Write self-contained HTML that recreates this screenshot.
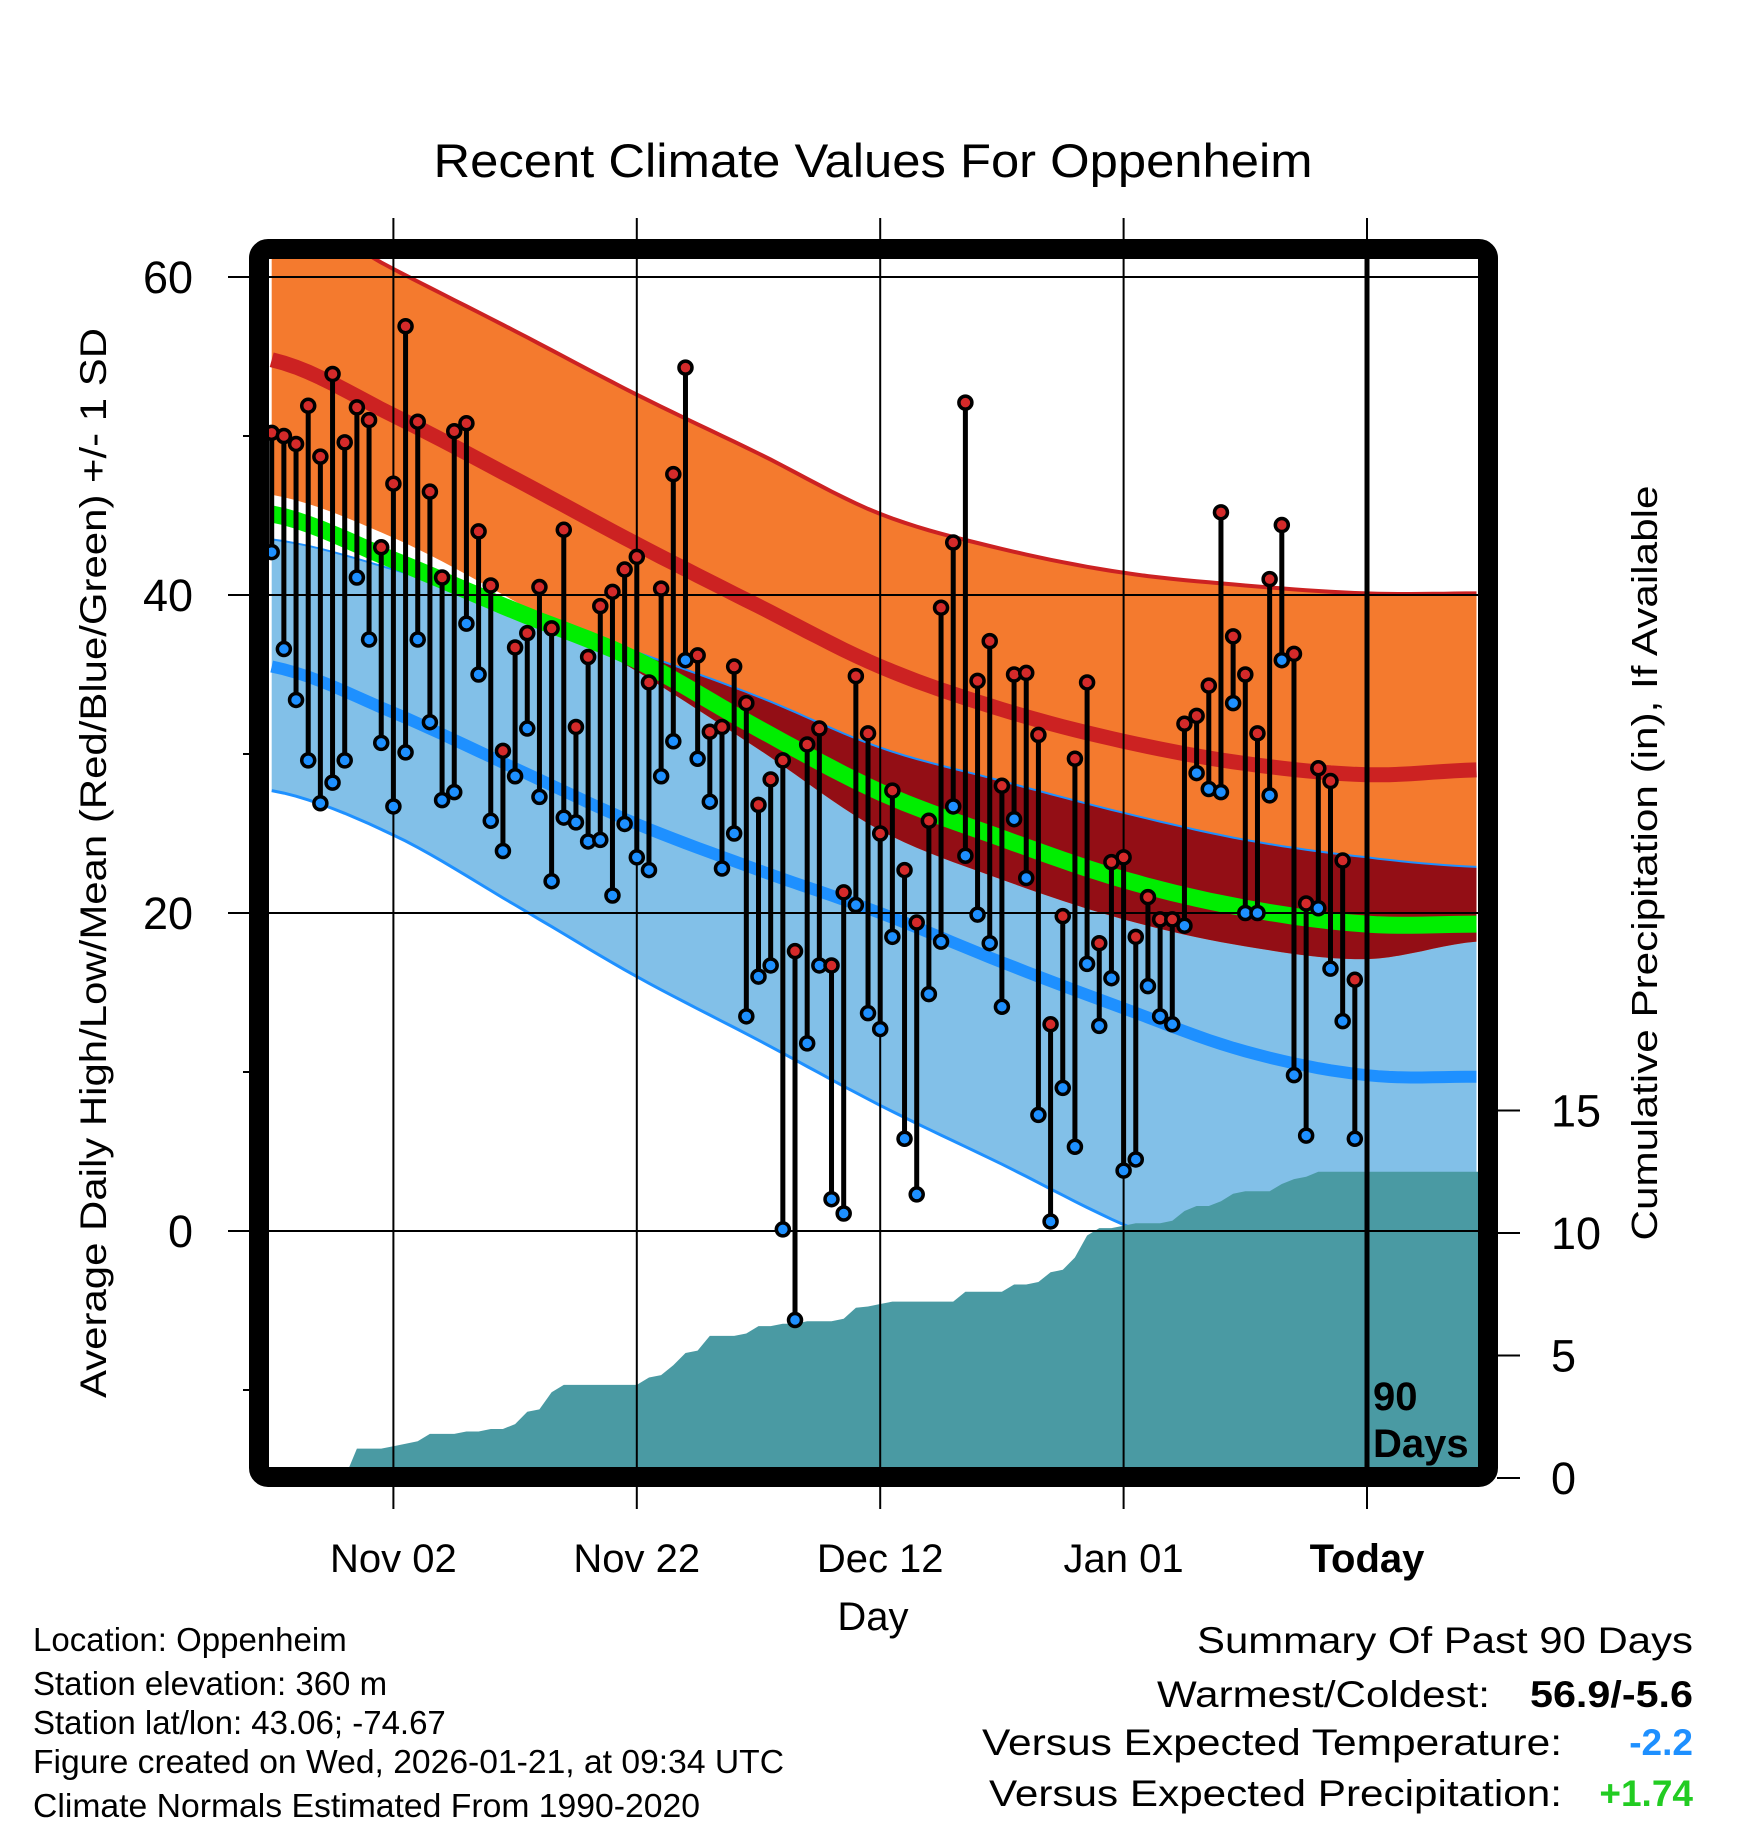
<!DOCTYPE html>
<html><head><meta charset="utf-8"><style>
html,body{margin:0;padding:0;background:#fff;}
svg{display:block;font-family:"Liberation Sans",sans-serif;}
</style></head><body>
<svg id="chart" width="1748" height="1828" viewBox="0 0 1748 1828" xmlns="http://www.w3.org/2000/svg">
<defs><clipPath id="plotclip"><rect x="269" y="259" width="1209" height="1209"/></clipPath></defs>
<text x="873" y="177" font-size="47" text-anchor="middle" textLength="879" lengthAdjust="spacingAndGlyphs">Recent Climate Values For Oppenheim</text>
<g id="plot" clip-path="url(#plotclip)"></g>
<g id="axes"></g>
<text transform="translate(106,863) rotate(-90)" font-size="37" text-anchor="middle" textLength="1070" lengthAdjust="spacingAndGlyphs">Average Daily High/Low/Mean (Red/Blue/Green) +/- 1 SD</text>
<text transform="translate(1657,863) rotate(-90)" font-size="36" text-anchor="middle" textLength="755" lengthAdjust="spacingAndGlyphs">Cumulative Precipitation (in), If Available</text>
<text x="873" y="1630" font-size="40" text-anchor="middle">Day</text>
<g font-size="33">
<text x="33" y="1651">Location: Oppenheim</text>
<text x="33" y="1695">Station elevation: 360 m</text>
<text x="33" y="1734">Station lat/lon: 43.06; -74.67</text>
<text x="33" y="1773" textLength="751" lengthAdjust="spacingAndGlyphs">Figure created on Wed, 2026-01-21, at 09:34 UTC</text>
<text x="33" y="1817" textLength="667" lengthAdjust="spacingAndGlyphs">Climate Normals Estimated From 1990-2020</text>
</g>
<g font-size="37">
<text x="1693" y="1653" text-anchor="end" textLength="496" lengthAdjust="spacingAndGlyphs">Summary Of Past 90 Days</text>
<text x="1490" y="1707" text-anchor="end" textLength="333" lengthAdjust="spacingAndGlyphs">Warmest/Coldest:</text>
<text x="1693" y="1707" text-anchor="end" font-weight="bold" textLength="163" lengthAdjust="spacingAndGlyphs">56.9/-5.6</text>
<text x="1562" y="1755" text-anchor="end" textLength="580" lengthAdjust="spacingAndGlyphs">Versus Expected Temperature:</text>
<text x="1693" y="1755" text-anchor="end" font-weight="bold" fill="#1E90FF">-2.2</text>
<text x="1562" y="1806" text-anchor="end" textLength="573" lengthAdjust="spacingAndGlyphs">Versus Expected Precipitation:</text>
<text x="1693" y="1806" text-anchor="end" font-weight="bold" fill="#22CC22">+1.74</text>
</g>
</svg>
<script>
// ---- data ----
const highs = [50.2,50.0,49.5,51.9,48.7,53.9,49.6,51.8,51.0,43.0,47.0,56.9,50.9,46.5,41.1,50.3,50.8,44.0,40.6,30.2,36.7,37.6,40.5,37.9,44.1,31.7,36.1,39.3,40.2,41.6,42.4,34.5,40.4,47.6,54.3,36.2,31.4,31.7,35.5,33.2,26.8,28.4,29.6,17.6,30.6,31.6,16.7,21.3,34.9,31.3,25.0,27.7,22.7,19.4,25.8,39.2,43.3,52.1,34.6,37.1,28.0,35.0,35.1,31.2,13.0,19.8,29.7,34.5,18.1,23.2,23.5,18.5,21.0,19.6,19.6,31.9,32.4,34.3,45.2,37.4,35.0,31.3,41.0,44.4,36.3,20.6,29.1,28.3,23.3,15.8];
const lows = [42.7,36.6,33.4,29.6,26.9,28.2,29.6,41.1,37.2,30.7,26.7,30.1,37.2,32.0,27.1,27.6,38.2,35.0,25.8,23.9,28.6,31.6,27.3,22.0,26.0,25.7,24.5,24.6,21.1,25.6,23.5,22.7,28.6,30.8,35.9,29.7,27.0,22.8,25.0,13.5,16.0,16.7,0.1,-5.6,11.8,16.7,2.0,1.1,20.5,13.7,12.7,18.5,5.8,2.3,14.9,18.2,26.7,23.6,19.9,18.1,14.1,25.9,22.2,7.3,0.6,9.0,5.3,16.8,12.9,15.9,3.8,4.5,15.4,13.5,13.0,19.2,28.8,27.8,27.6,33.2,20.0,20.0,27.4,35.9,9.8,6.0,20.3,16.5,13.2,5.8];
const precip = [0,0,0,0,0,0,0,1.2,1.2,1.2,1.3,1.4,1.5,1.8,1.8,1.8,1.9,1.9,2.0,2.0,2.2,2.7,2.8,3.5,3.8,3.8,3.8,3.8,3.8,3.8,3.8,4.1,4.2,4.6,5.1,5.2,5.8,5.8,5.8,5.9,6.2,6.2,6.3,6.3,6.4,6.4,6.4,6.5,6.95,7.0,7.1,7.2,7.2,7.2,7.2,7.2,7.2,7.6,7.6,7.6,7.6,7.9,7.9,8.0,8.4,8.5,9.0,9.9,10.2,10.2,10.3,10.4,10.4,10.4,10.5,10.9,11.1,11.1,11.3,11.6,11.7,11.7,11.7,12.0,12.2,12.3,12.5,12.5,12.5,12.5];
const normDays = [-90,-80,-70,-60,-50,-40,-30,-20,-10,0,9];
const highPlusSD = [64.5,60.5,56.6,52.6,48.9,45.1,42.9,41.4,40.6,40.1,40.1];
const highMean = [54.8,51.3,47.3,43.2,39.3,35.5,32.8,30.8,29.4,28.7,29.0];
const highMinusSD = [46.3,43.6,39.6,35.2,30.3,25.2,22.1,19.6,17.9,17.1,18.2];
const meanMean = [45.1,42.2,39.0,35.9,31.6,27.6,24.7,22.1,20.3,19.3,19.3];
const lowPlusSD = [43.5,41.6,39.0,36.4,33.6,30.4,28.3,26.3,24.6,23.5,22.9];
const lowMean = [35.5,32.6,29.1,25.6,22.7,20.0,16.9,14.0,11.3,9.8,9.7];
const lowMinusSD = [27.7,24.9,20.5,16.0,12.0,7.9,4.2,0.4,-2.5,-4.5,-5.0];
const yTicks = [0,20,40,60];
const yMinor = [-10,10,30,50];
const pTicks = [0,5,10,15];
const xTickDays = [-80,-60,-40,-20,0];
const xTickLabels = ["Nov 02","Nov 22","Dec 12","Jan 01","Today"];

// ---- axis functions ----
const X = d => 1367 + 12.17*d;
const Y = v => 1231 - 15.9*v;
const P = p => 1478 - 24.5*p;
const NS = "http://www.w3.org/2000/svg";
function mk(tag, attrs, parent){const e=document.createElementNS(NS,tag);for(const k in attrs)e.setAttribute(k,attrs[k]);parent.appendChild(e);return e;}
const plot = document.getElementById('plot');
const axes = document.getElementById('axes');

function sample(vals){
  const pts=[];const n=normDays.length;
  for(let i=0;i<n-1;i++){
    const p0=vals[Math.max(i-1,0)],p1=vals[i],p2=vals[i+1],p3=vals[Math.min(i+2,n-1)];
    const d1=normDays[i],d2=normDays[i+1];
    for(let s=0;s<10;s++){const t=s/10;
      const v=0.5*((2*p1)+(-p0+p2)*t+(2*p0-5*p1+4*p2-p3)*t*t+(-p0+3*p1-3*p2+p3)*t*t*t);
      pts.push([d1+(d2-d1)*t,v]);}
  }
  pts.push([normDays[n-1],vals[n-1]]);
  return pts;
}
const sHP=sample(highPlusSD),sHM=sample(highMean),sHm=sample(highMinusSD),sMM=sample(meanMean),sLP=sample(lowPlusSD),sLM=sample(lowMean),sLm=sample(lowMinusSD);
const line = s => s.map(p=>X(p[0]).toFixed(1)+','+Y(p[1]).toFixed(1)).join(' ');
const band = (a,b) => line(a)+' '+line(b.slice().reverse());

const lb=mk('polygon',{points:band(sLP,sLm),fill:'#82C0E8'},plot);


const ob=mk('polygon',{points:band(sHP,sHm),fill:'#F47A2E'},plot);


const ovBottom=sLP.map((p,i)=>[p[0],Math.min(p[1],sHm[i][1])]);
const dr=mk('polygon',{points:band(sLP,ovBottom),fill:'#930E15'},plot);


const lpl=mk('polyline',{points:line(sLP),fill:'none',stroke:'#1E90FF','stroke-width':2},plot);


const lml=mk('polyline',{points:line(sLm),fill:'none',stroke:'#1E90FF','stroke-width':3},plot);


const hpl=mk('polyline',{points:line(sHP),fill:'none',stroke:'#CC2222','stroke-width':4},plot);


const hml=mk('polyline',{points:line(sHM),fill:'none',stroke:'#CC2222','stroke-width':15},plot);


const mml=mk('polyline',{points:line(sMM),fill:'none',stroke:'#00EE00','stroke-width':17},plot);


const lmean=mk('polyline',{points:line(sLM),fill:'none',stroke:'#1E90FF','stroke-width':12},plot);



let pp = X(-90)-2+','+1480+' ';
precip.forEach((p,i)=>{pp+=X(i-90).toFixed(1)+','+P(p).toFixed(1)+' ';});
pp+=X(10)+','+P(precip[precip.length-1]).toFixed(1)+' '+X(10)+',1480';
const pa=mk('polygon',{points:pp,fill:'#4A9AA3'},plot);



yTicks.forEach(v=>{const g=mk('line',{x1:269,x2:1478,y1:Y(v),y2:Y(v),stroke:'#000','stroke-width':2},plot);

});
xTickDays.forEach(d=>{const g=mk('line',{x1:X(d),x2:X(d),y1:259,y2:1468,stroke:'#000','stroke-width':d===0?5:2},plot);

});

highs.forEach((h,i)=>{
  const x=X(i-90);
  const st=mk('line',{x1:x,x2:x,y1:Y(h),y2:Y(lows[i]),stroke:'#000','stroke-width':5},plot);
  
  
});
highs.forEach((h,i)=>{
  const x=X(i-90);
  const lc=mk('circle',{cx:x,cy:Y(lows[i]),r:6.5,fill:'#1E90FF',stroke:'#000','stroke-width':3.5},plot);
  
  
  const hc=mk('circle',{cx:x,cy:Y(h),r:6.5,fill:'#D42A2A',stroke:'#000','stroke-width':3.5},plot);
  
  
});
const t90=mk('text',{x:1373,y:1410,'font-size':40,'font-weight':'bold'},plot);t90.textContent='90';


const tdy=mk('text',{x:1373,y:1457,'font-size':40,'font-weight':'bold'},plot);tdy.textContent='Days';



yTicks.forEach(v=>{
  const t=mk('line',{x1:228,x2:250,y1:Y(v),y2:Y(v),stroke:'#000','stroke-width':2},axes);
  
  
  const l=mk('text',{x:193,y:Y(v)+16,'font-size':45,'text-anchor':'end'},axes);l.textContent=v;
  
  
});
yMinor.forEach(v=>{const t=mk('line',{x1:243,x2:250,y1:Y(v),y2:Y(v),stroke:'#000','stroke-width':2},axes);

});
pTicks.forEach(p=>{
  const t=mk('line',{x1:1497,x2:1520,y1:P(p),y2:P(p),stroke:'#000','stroke-width':2},axes);
  
  
  const l=mk('text',{x:1551,y:P(p)+16,'font-size':45},axes);l.textContent=p;
  
  
});
xTickDays.forEach((d,i)=>{
  const t1=mk('line',{x1:X(d),x2:X(d),y1:218,y2:250,stroke:'#000','stroke-width':2},axes);
  
  
  const t2=mk('line',{x1:X(d),x2:X(d),y1:1480,y2:1509,stroke:'#000','stroke-width':2},axes);
  
  
  const l=mk('text',{x:X(d),y:1572,'font-size':40,'text-anchor':'middle','font-weight':d===0?'bold':'normal'},axes);l.textContent=xTickLabels[i];
  
  
});
const fr=mk('rect',{x:259,y:249,width:1229,height:1228,rx:9,fill:'none',stroke:'#000','stroke-width':20},axes);


</script>
</body></html>
